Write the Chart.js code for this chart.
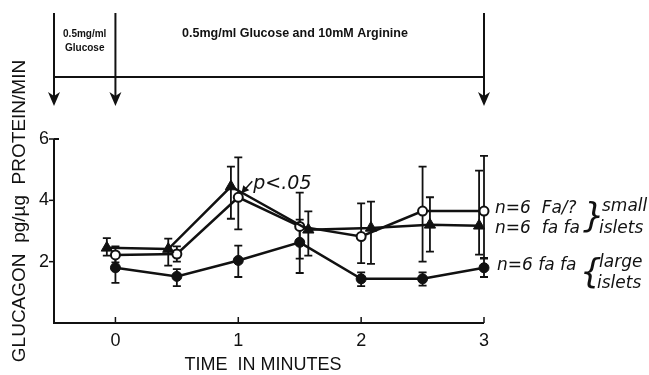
<!DOCTYPE html>
<html>
<head>
<meta charset="utf-8">
<script src="https://cdn.jsdelivr.net/npm/chart.js@4/dist/chart.umd.min.js"></script>
<style>
  body { margin: 0; background: #fff; }
  canvas { display: block; }
</style>
</head>
<body>
<canvas id="grafico" width="649" height="375"></canvas>
<script>
// tempos (min) - os triangulos foram desenhados um pouco deslocados no original
const tempos = [0, 0.5, 1, 1.5, 2, 2.5, 3];
const temposTri = [-0.07, 0.43, 0.94, 1.57, 2.08, 2.56, 2.96];

// n=6 Fa/? (circulo aberto)
const faMedia = [2.22, 2.25, 4.1, 3.15, 2.82, 3.65, 3.65];
const faMin = [1.98, 2.0, 3.05, 2.1, 1.95, 2.0, 2.1];
const faMax = [2.5, 2.5, 5.4, 4.25, 3.9, 5.1, 5.45];

// n=6 fa fa ilhotas pequenas (triangulo)
const pequenasMedia = [2.45, 2.41, 4.45, 3.04, 3.1, 3.2, 3.17];
const pequenasMin = [2.2, 1.87, 3.4, 2.2, 1.93, 2.33, 2.23];
const pequenasMax = [2.77, 2.75, 5.1, 3.64, 3.96, 4.1, 4.97];

// n=6 fa fa ilhotas grandes (circulo cheio)
const grandesMedia = [1.8, 1.52, 2.04, 2.63, 1.44, 1.44, 1.8];
const grandesMin = [1.31, 1.2, 1.5, 1.63, 1.2, 1.22, 1.5];
const grandesMax = [2.3, 1.76, 2.52, 3.37, 1.65, 1.65, 2.12];

const xTicks = [0, 1, 2, 3];
const yTicks = [2, 4, 6];
const setas = [-0.5, 0, 3]; // momentos de troca do meio

function pontos(xs, ys) {
    return xs.map((x, i) => ({ x: x, y: ys[i] }));
}

const barrasErro = [
    { xs: tempos, lo: grandesMin, hi: grandesMax },
    { xs: temposTri, lo: pequenasMin, hi: pequenasMax },
    { xs: tempos, lo: faMin, hi: faMax }
];

// barras de erro antes dos pontos
const pluginErro = {
    id: 'barrasErro',
    beforeDatasetsDraw(chart) {
        const c = chart.ctx, sx = chart.scales.x, sy = chart.scales.y;
        c.save();
        c.strokeStyle = '#111';
        c.lineWidth = 1.8;
        barrasErro.forEach(s => {
            s.xs.forEach((t, i) => {
                const x = sx.getPixelForValue(t);
                const y1 = sy.getPixelForValue(s.lo[i]);
                const y2 = sy.getPixelForValue(s.hi[i]);
                c.beginPath();
                c.moveTo(x, y1); c.lineTo(x, y2);
                c.moveTo(x - 4, y1); c.lineTo(x + 4, y1);
                c.moveTo(x - 4, y2); c.lineTo(x + 4, y2);
                c.stroke();
            });
        });
        c.restore();
    }
};

// eixos, textos e setas do topo
const pluginFigura = {
    id: 'figura',
    afterDraw(chart) {
        const c = chart.ctx, sx = chart.scales.x, sy = chart.scales.y;
        const a = chart.chartArea;
        c.save();
        c.strokeStyle = '#111';
        c.fillStyle = '#111';
        c.lineWidth = 2;

        // eixos
        c.beginPath();
        c.moveTo(a.left, a.top); c.lineTo(a.left, a.bottom); c.lineTo(a.right, a.bottom);
        c.moveTo(a.left, a.top); c.lineTo(a.left + 5, a.top);
        c.stroke();
        c.lineWidth = 1.5;
        xTicks.forEach(v => {
            const x = sx.getPixelForValue(v);
            c.beginPath(); c.moveTo(x, a.bottom); c.lineTo(x, a.bottom - 6); c.stroke();
        });
        yTicks.forEach(v => {
            const y = sy.getPixelForValue(v);
            c.beginPath(); c.moveTo(a.left, y); c.lineTo(a.left - 5, y); c.stroke();
        });

        c.font = '18px "Liberation Sans"';
        c.textAlign = 'center';
        c.textBaseline = 'middle';
        xTicks.forEach(v => c.fillText(String(v), sx.getPixelForValue(v), a.bottom + 18));
        c.textAlign = 'right';
        yTicks.forEach(v => c.fillText(String(v), a.left - 5, sy.getPixelForValue(v)));

        // titulos
        c.textAlign = 'center';
        c.font = '18px "Liberation Sans"';
        c.fillText('TIME  IN MINUTES', 263, 365);
        c.save();
        c.translate(20, 211);
        c.rotate(-Math.PI / 2);
        c.font = '19px "Liberation Sans"';
        c.fillText('GLUCAGON  pg/\u00b5g  PROTEIN/MIN', 0, 0);
        c.restore();

        // setas do topo
        c.lineWidth = 2;
        const xs = setas.map(v => sx.getPixelForValue(v));
        c.beginPath();
        c.moveTo(xs[0], 77); c.lineTo(xs[2], 77);
        c.stroke();
        xs.forEach(x => {
            c.beginPath(); c.moveTo(x, 13); c.lineTo(x, 96); c.stroke();
            c.beginPath();
            c.moveTo(x - 6, 92); c.lineTo(x, 106); c.lineTo(x + 6, 92); c.lineTo(x, 96);
            c.closePath(); c.fill();
        });
        c.font = 'bold 10px "Liberation Sans"';
        c.fillText('0.5mg/ml', (xs[0] + xs[1]) / 2, 34);
        c.fillText('Glucose', (xs[0] + xs[1]) / 2, 48);
        c.font = 'bold 12.5px "Liberation Sans"';
        c.fillText('0.5mg/ml Glucose and 10mM Arginine', 295, 34);

        // p<.05
        const px = sx.getPixelForValue(1), py = sy.getPixelForValue(4.1);
        c.lineWidth = 1.5;
        c.beginPath(); c.moveTo(px + 14, py - 16); c.lineTo(px + 4, py - 5); c.stroke();
        c.beginPath();
        c.moveTo(px + 3, py - 4); c.lineTo(px + 5, py - 12); c.lineTo(px + 11, py - 7);
        c.closePath(); c.fill();
        c.font = 'italic 19px "DejaVu Sans"';
        c.textAlign = 'left';
        c.fillText('p<.05', px + 15, py - 13);

        // legenda a direita
        c.font = 'italic 17px "DejaVu Sans"';
        c.fillText('n=6  Fa/?', 495, 209);
        c.fillText('n=6  fa fa', 495, 229);
        c.fillText('n=6 fa fa', 497, 266);
        c.fillText('small', 602, 207);
        c.fillText('islets', 599, 229);
        c.fillText('large', 599, 263);
        c.fillText('islets', 597, 284);
        c.font = 'italic 34px "DejaVu Sans"';
        c.fillText('}', 583, 218);
        c.fillText('{', 580, 274);
        c.restore();
    }
};

const ctx = document.getElementById('grafico').getContext('2d');
const grafico = new Chart(ctx, {
    type: 'scatter',
    data: {
        datasets: [
            {
                label: 'n=6 fa fa large islets',
                data: pontos(tempos, grandesMedia),
                showLine: true,
                clip: false,
                borderColor: '#111',
                borderWidth: 2.5,
                pointStyle: 'circle',
                pointRadius: 5,
                pointBackgroundColor: '#111',
                pointBorderColor: '#111',
                pointBorderWidth: 1
            },
            {
                label: 'n=6 fa fa small islets',
                data: pontos(temposTri, pequenasMedia),
                showLine: true,
                clip: false,
                borderColor: '#111',
                borderWidth: 2.5,
                pointStyle: 'triangle',
                pointRadius: 6.5,
                pointBackgroundColor: '#111',
                pointBorderColor: '#111',
                pointBorderWidth: 1
            },
            {
                label: 'n=6 Fa/? small islets',
                data: pontos(tempos, faMedia),
                showLine: true,
                clip: false,
                borderColor: '#111',
                borderWidth: 2.5,
                pointStyle: 'circle',
                pointRadius: 4.5,
                pointBackgroundColor: '#fff',
                pointBorderColor: '#111',
                pointBorderWidth: 2
            }
        ]
    },
    options: {
        responsive: false,
        animation: false,
        devicePixelRatio: 1,
        layout: { padding: { left: 54, right: 165, top: 139, bottom: 52 } },
        scales: {
            x: { type: 'linear', min: -0.5, max: 3, display: false },
            y: { min: 0, max: 6, display: false }
        },
        plugins: {
            legend: { display: false },
            tooltip: { enabled: false }
        }
    },
    plugins: [pluginErro, pluginFigura]
});
</script>
</body>
</html>
